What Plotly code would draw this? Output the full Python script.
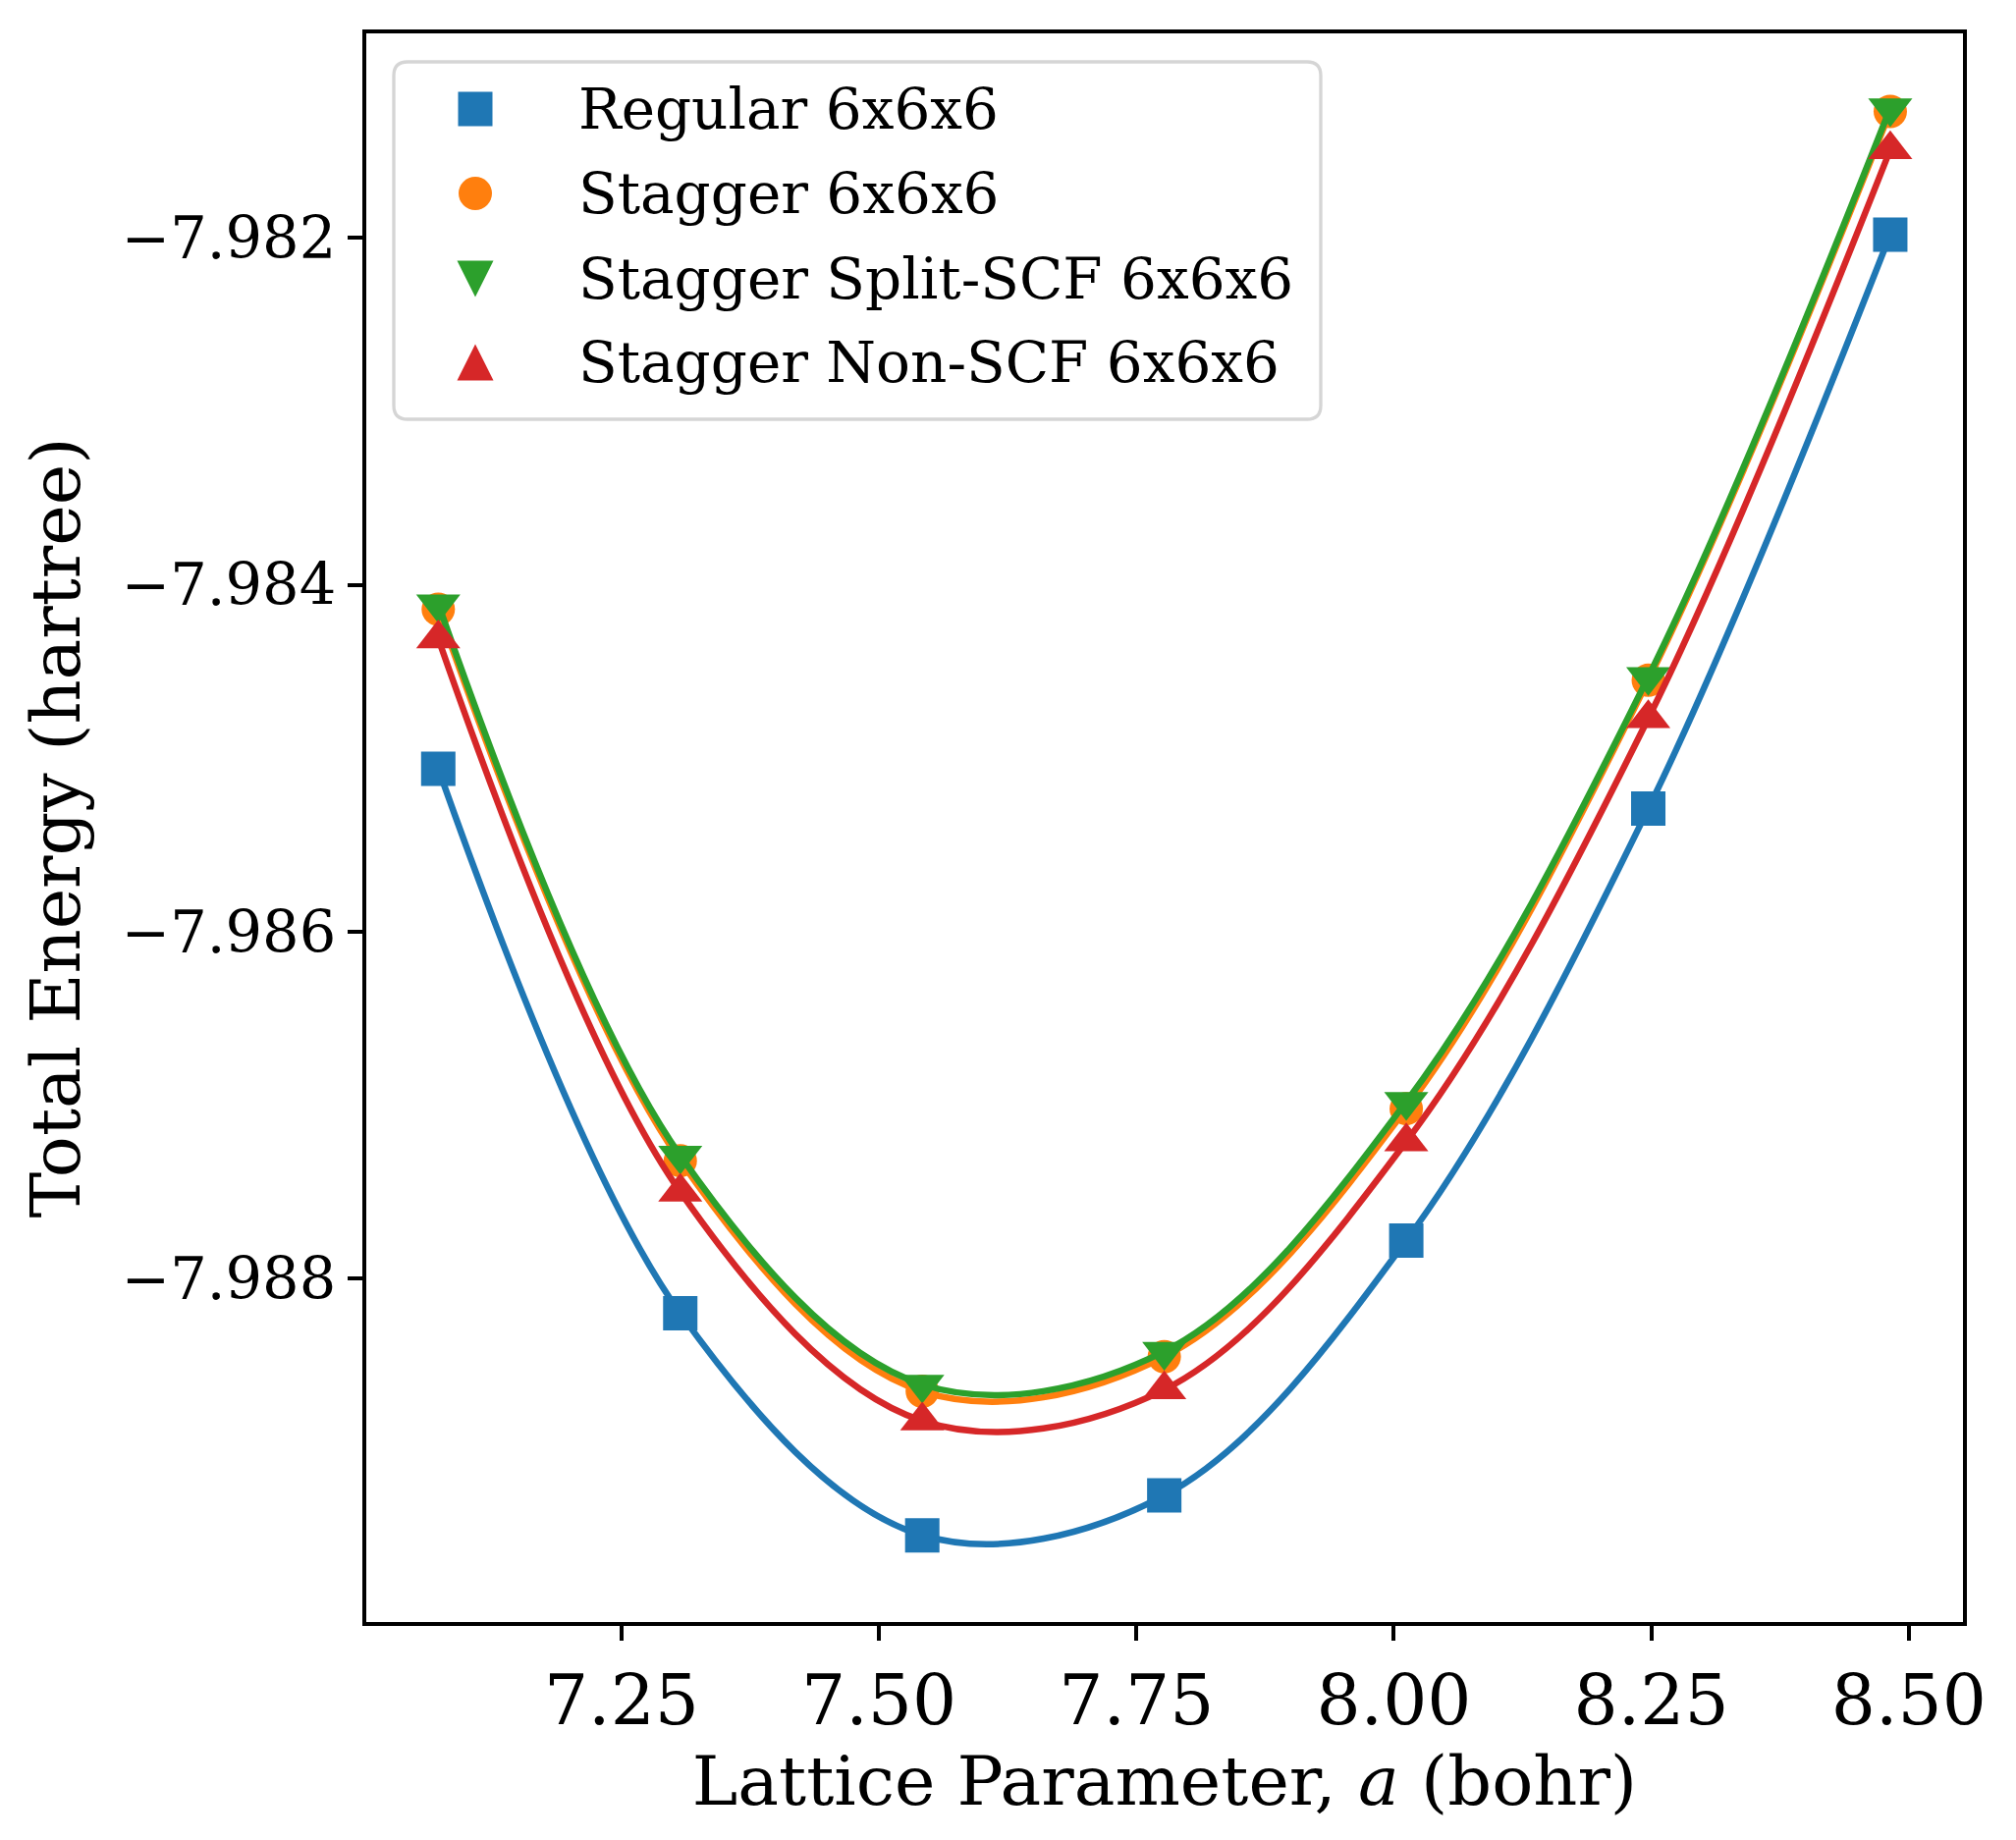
import plotly.graph_objects as go

# lattice parameter a (bohr) and total energies (hartree)
lattice = [7.072, 7.307, 7.542, 7.777, 8.012, 8.247, 8.482]

e_regular = [-7.98506, -7.98820, -7.98948, -7.98925, -7.98778, -7.98529, -7.98198]
e_stagger = [-7.98414, -7.98732, -7.98865, -7.98845, -7.98702, -7.98455, -7.98127]
e_split = [-7.98411, -7.98729, -7.98861, -7.98842, -7.98698, -7.98453, -7.98125]
e_nonscf = [-7.98431, -7.98750, -7.98882, -7.98864, -7.98721, -7.98477, -7.98149]

names = ["Regular 6x6x6", "Stagger 6x6x6", "Stagger Split-SCF 6x6x6", "Stagger Non-SCF 6x6x6"]
colors = ["#1f77b4", "#ff7f0e", "#2ca02c", "#d62728"]
symbols = ["square", "circle", "triangle-down", "triangle-up"]
msizes = [35, 34, 39, 39]

# page body has an 8px margin, so the figure is a bit smaller and shifted
OFF = 8
W, H = 2053 - OFF, 1874 - OFF
L, R, T, B = 373 - OFF, 54, 34 - OFF, 222
FONT = "DejaVu Serif"

fig = go.Figure()
for vals, name, col, sym, ms in zip([e_regular, e_stagger, e_split, e_nonscf], names, colors, symbols, msizes):
    fig.add_trace(go.Scatter(x=lattice, y=vals, mode="lines", line=dict(color=col, width=6.5, shape="spline", smoothing=1),
                             showlegend=False, hoverinfo="skip"))
    fig.add_trace(go.Scatter(x=lattice, y=vals, mode="markers", name=name,
                             marker=dict(symbol=sym, size=ms, color=col, line=dict(width=0)), showlegend=False))


# page px -> paper coords (for the hand-drawn matplotlib-style legend)
def px_x(p):
    return (p - OFF - L) / (W - L - R)


def px_y(p):
    return (H - B - (p - OFF)) / (H - T - B)


shapes = []
# rounded legend frame
bx0, by0, bw, bh, rad = 401, 63, 944, 364, 14
shapes.append(dict(type="path", xref="paper", yref="paper", xsizemode="pixel", ysizemode="pixel",
                   xanchor=px_x(bx0), yanchor=px_y(by0),
                   path=("M %d,0 H %d Q %d,0 %d,%d V %d Q %d,%d %d,%d H %d Q 0,%d 0,%d V %d Q 0,0 %d,0 Z"
                         % (rad, bw - rad, bw, bw, -rad, -(bh - rad), bw, -bh, bw - rad, -bh,
                            rad, -bh, -(bh - rad), -rad, rad)),
                   line=dict(color="#d5d5d5", width=3.3), fillcolor="rgba(255,255,255,0.8)", layer="above"))

row_y = [111, 197, 284, 369]
sym_x = 484
annotations = []
for i in range(4):
    ax, ay = px_x(sym_x), px_y(row_y[i])
    common = dict(xref="paper", yref="paper", xsizemode="pixel", ysizemode="pixel",
                  xanchor=ax, yanchor=ay, fillcolor=colors[i], line=dict(width=0), layer="above")
    if symbols[i] == "square":
        shapes.append(dict(type="rect", x0=-17.5, x1=17.5, y0=-17.5, y1=17.5, **common))
    elif symbols[i] == "circle":
        shapes.append(dict(type="circle", x0=-17, x1=17, y0=-17, y1=17, **common))
    elif symbols[i] == "triangle-down":
        shapes.append(dict(type="path", path="M -18.5,18.5 L 18.5,18.5 L 0,-18.5 Z", **common))
    else:
        shapes.append(dict(type="path", path="M -18.5,-18.5 L 18.5,-18.5 L 0,18.5 Z", **common))
    annotations.append(dict(text=names[i], xref="paper", yref="paper", x=px_x(587), y=ay,
                            xanchor="left", yanchor="middle", showarrow=False,
                            font=dict(family=FONT, size=58, color="black")))

axis_common = dict(showgrid=False, zeroline=False, showline=True, linecolor="black", linewidth=4,
                   mirror=True, ticks="outside", ticklen=15, tickwidth=4, tickcolor="black")

fig.update_layout(
    width=W, height=H,
    margin=dict(l=L, r=R, t=T, b=B, pad=0),
    paper_bgcolor="white", plot_bgcolor="white",
    font=dict(family=FONT, color="black"),
    shapes=shapes, annotations=annotations,
    xaxis=dict(range=[7.0021, 8.5526], tick0=7.25, dtick=0.25, tickformat=".2f",
               tickfont=dict(size=71, family=FONT),
               title=dict(text="Lattice Parameter, <i>a</i> (bohr)", font=dict(size=70, family=FONT), standoff=0),
               automargin=False, **axis_common),
    yaxis=dict(range=[-7.98998, -7.98082], tick0=-7.988, dtick=0.002, tickformat=".3f",
               tickfont=dict(size=59, family=FONT),
               title=dict(text="Total Energy (hartree)", font=dict(size=70, family=FONT), standoff=20),
               automargin=False, **axis_common),
)

fig.write_html("out.html")
